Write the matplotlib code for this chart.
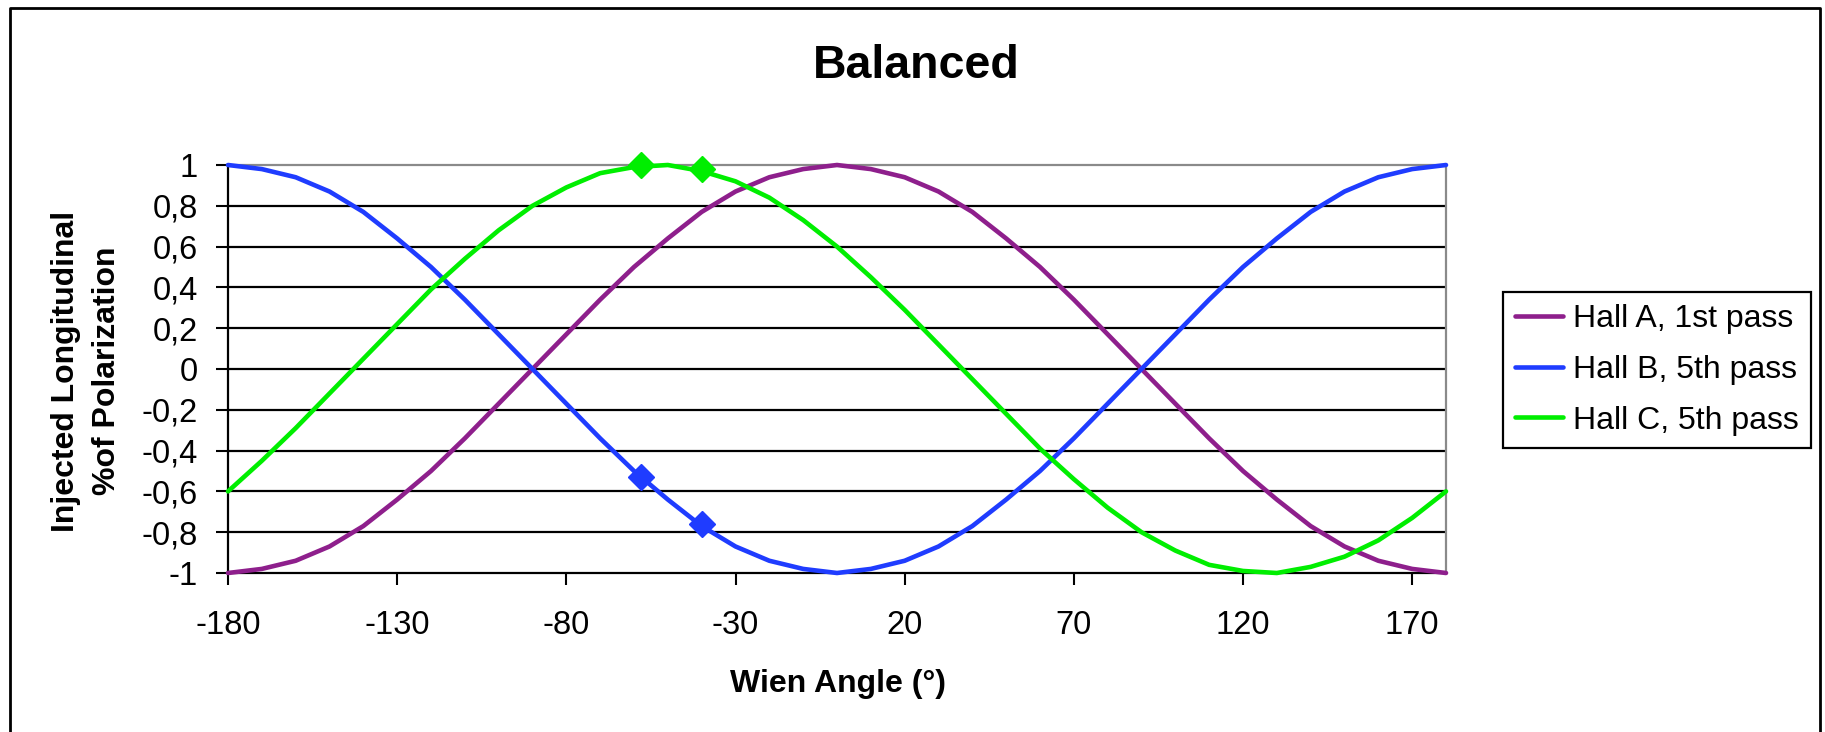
import matplotlib
matplotlib.use("Agg")
import matplotlib.pyplot as plt
from matplotlib.lines import Line2D

plt.rcParams['font.family'] = ['Liberation Sans', 'DejaVu Sans']
plt.rcParams['axes.unicode_minus'] = False

# ---- data ----
angles = [-180, -170, -160, -150, -140, -130, -120, -110, -100, -90,
          -80, -70, -60, -50, -40, -30, -20, -10, 0, 10,
          20, 30, 40, 50, 60, 70, 80, 90, 100, 110,
          120, 130, 140, 150, 160, 170, 180]

hall_a = [-1.00, -0.98, -0.94, -0.87, -0.77, -0.64, -0.50, -0.34, -0.17, 0.00,
          0.17, 0.34, 0.50, 0.64, 0.77, 0.87, 0.94, 0.98, 1.00, 0.98,
          0.94, 0.87, 0.77, 0.64, 0.50, 0.34, 0.17, 0.00, -0.17, -0.34,
          -0.50, -0.64, -0.77, -0.87, -0.94, -0.98, -1.00]

hall_b = [1.00, 0.98, 0.94, 0.87, 0.77, 0.64, 0.50, 0.34, 0.17, 0.00,
          -0.17, -0.34, -0.50, -0.64, -0.77, -0.87, -0.94, -0.98, -1.00, -0.98,
          -0.94, -0.87, -0.77, -0.64, -0.50, -0.34, -0.17, 0.00, 0.17, 0.34,
          0.50, 0.64, 0.77, 0.87, 0.94, 0.98, 1.00]

hall_c = [-0.60, -0.45, -0.29, -0.12, 0.05, 0.22, 0.39, 0.54, 0.68, 0.80,
          0.89, 0.96, 0.99, 1.00, 0.97, 0.92, 0.84, 0.73, 0.60, 0.45,
          0.29, 0.12, -0.05, -0.22, -0.39, -0.54, -0.68, -0.80, -0.89, -0.96,
          -0.99, -1.00, -0.97, -0.92, -0.84, -0.73, -0.60]

marker_angles = [-58, -40]
hall_b_markers = [-0.53, -0.76]
hall_c_markers = [1.00, 0.98]

series_labels = ['Hall A, 1st pass', 'Hall B, 5th pass', 'Hall C, 5th pass']
xticks = [-180, -130, -80, -30, 20, 70, 120, 170]
yticks = [-1, -0.8, -0.6, -0.4, -0.2, 0, 0.2, 0.4, 0.6, 0.8, 1]
ytick_labels = ['-1', '-0,8', '-0,6', '-0,4', '-0,2', '0', '0,2', '0,4', '0,6', '0,8', '1']

title = 'Balanced'
xlabel = 'Wien Angle (°)'
ylabel_lines = ['Injected Longitudinal', '%of Polarization']

# ---- style ----
c_a = '#8E1F8C'
c_b = '#1F3CFF'
c_c = '#00EE00'

W, H = 1825, 732
fig = plt.figure(figsize=(W / 100, H / 100), dpi=100)
fig.patch.set_facecolor('white')

ax = fig.add_axes([228 / W, (H - 573) / H, (1446 - 228) / W, (573 - 165) / H])

lw = 3.3
la, = ax.plot(angles, hall_a, color=c_a, lw=lw, clip_on=False, zorder=3,
              solid_capstyle='round', solid_joinstyle='round')
lb, = ax.plot(angles, hall_b, color=c_b, lw=lw, clip_on=False, zorder=3,
              solid_capstyle='round', solid_joinstyle='round')
lc, = ax.plot(angles, hall_c, color=c_c, lw=lw, clip_on=False, zorder=3,
              solid_capstyle='round', solid_joinstyle='round')
ax.plot(marker_angles, hall_b_markers, ls='none', marker='D', ms=13,
        color=c_b, mec=c_b, clip_on=False, zorder=4)
ax.plot(marker_angles, hall_c_markers, ls='none', marker='D', ms=13,
        color=c_c, mec=c_c, clip_on=False, zorder=4)

ax.set_xlim(-180, 180)
ax.set_ylim(-1, 1)
ax.set_xticks(xticks)
ax.set_xticklabels([str(t) for t in xticks])
ax.set_yticks(yticks)
ax.set_yticklabels(ytick_labels)

ax.tick_params(axis='both', direction='out', length=8.6, width=1.5,
               color='black', labelsize=23.5, labelcolor='black')
ax.tick_params(axis='x', pad=18)
ax.tick_params(axis='y', pad=13)

ax.yaxis.grid(True, color='black', lw=1.6)
ax.xaxis.grid(False)
for t in ax.yaxis.get_major_ticks():
    if abs(t.get_loc()) > 0.99:
        t.gridline.set_visible(False)

for side in ['left', 'bottom']:
    ax.spines[side].set_color('black')
    ax.spines[side].set_linewidth(1.6)
for side in ['top', 'right']:
    ax.spines[side].set_color('#8a8a8a')
    ax.spines[side].set_linewidth(1.6)

# title and axis labels
fig.text(916 / W, 1 - 78 / H, title, ha='center', va='baseline',
         fontsize=33.5, fontweight='bold')
fig.text(838 / W, 1 - 692 / H, xlabel, ha='center', va='baseline',
         fontsize=23, fontweight='bold')
fig.text(74 / W, 1 - 371 / H, ylabel_lines[0], ha='center', va='baseline',
         rotation=90, rotation_mode='anchor', fontsize=23, fontweight='bold')
fig.text(115 / W, 1 - 371 / H, ylabel_lines[1], ha='center', va='baseline',
         rotation=90, rotation_mode='anchor', fontsize=23, fontweight='bold')

# legend
leg = fig.legend([la, lb, lc], series_labels,
                 loc='upper left', bbox_to_anchor=(1503 / W, 1 - 292 / H),
                 bbox_transform=fig.transFigure, borderaxespad=0,
                 fontsize=23, frameon=True, fancybox=False, shadow=False,
                 handlelength=1.5, handletextpad=0.3, labelspacing=0.65,
                 borderpad=0.38)
leg.get_frame().set_edgecolor('black')
leg.get_frame().set_linewidth(1.6)
leg.get_frame().set_alpha(1)

# outer chart frame (bottom edge lies outside the image)
fig.add_artist(Line2D([10 / W, 10 / W, 1820 / W, 1820 / W],
                      [0, 1 - 8 / H, 1 - 8 / H, 0],
                      transform=fig.transFigure, color='black', lw=2))

fig.savefig('out.png', dpi=100, facecolor='white')
